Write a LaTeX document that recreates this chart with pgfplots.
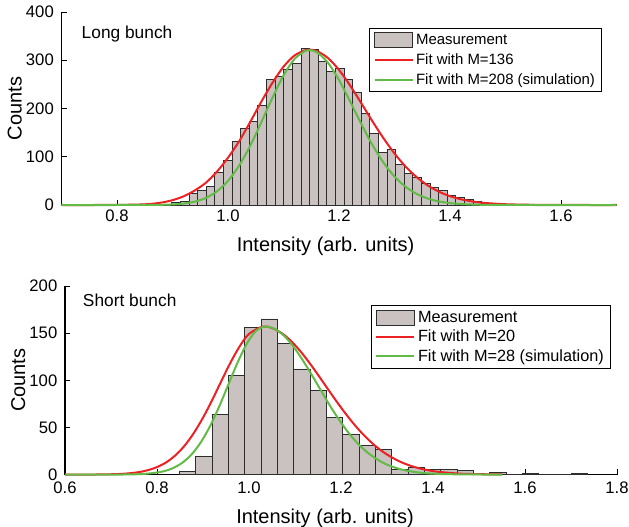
\documentclass[border=0pt]{standalone}
\usepackage{pgfplots}
\pgfplotsset{compat=1.18}
\usepackage{fontspec}
\setmainfont{Liberation Sans}
\definecolor{barfill}{RGB}{201,194,192}
\definecolor{baredge}{RGB}{45,45,45}
\definecolor{fitred}{RGB}{237,32,36}
\definecolor{fitgreen}{RGB}{98,187,70}
\pgfplotsset{
  myaxis/.style={
    scale only axis,
    clip=false,
    axis x line*=bottom, axis y line*=left,
    axis line style={line width=0.8pt, -},
    tick align=inside,
    major tick length=4pt,
    tick style={line width=0.7pt, black},
    ticklabel style={font=\fontsize{12.5}{15}\selectfont},
    yticklabel shift=2.25pt,
    label style={font=\fontsize{15}{18}\selectfont},
    xlabel={Intensity (arb. units)},
    ylabel={Counts},
    ylabel shift=-3.75pt,
    legend cell align=left,
    legend style={draw=black, line width=0.7pt, inner xsep=3pt, inner ysep=2pt},
  },
  barlegend/.style={legend image code/.code={\draw[fill=barfill, draw=baredge, line width=0.6pt] (0pt,-5.6pt) rectangle (28.5pt,5.6pt);}},
  linelegend/.style={legend image code/.code={\draw[line width=1.3pt] (0pt,0pt) -- (28.5pt,0pt);}},
  barstyle/.style={ybar interval, fill=barfill, draw=baredge, line width=0.5pt, barlegend},
  redfit/.style={fitred, line width=1.5pt, smooth, tension=0.5, linelegend},
  greenfit/.style={fitgreen, line width=1.5pt, smooth, tension=0.5, linelegend},
}
\begin{document}
\begin{tikzpicture}
\useasboundingbox (0pt,0pt) rectangle (471.75pt,-395.25pt);
% ---------------- Long bunch ----------------
\begin{axis}[myaxis,
  at={(46.125pt,-153.75pt)}, anchor=south west,
  width=416.25pt, height=144.75pt,
  xmin=0.7, xmax=1.7, ymin=0, ymax=400,
  xtick={0.8,1.0,1.2,1.4,1.6}, xticklabels={0.8,1.0,1.2,1.4,1.6},
  ytick={0,100,200,300,400}, yticklabels={0,100,200,300,400},
  xlabel style={at={(ticklabel cs:0.4757)}},
  xlabel shift=4.5pt,
  legend style={at={(0.974,0.917)}, anchor=north east, font=\fontsize{11.2}{13}\selectfont, row sep=1.5pt}]
\addplot[barstyle] coordinates {
(0.8831,2) (0.8986,5) (0.9141,8) (0.9296,24) (0.9451,30) (0.9607,38) (0.9762,68) (0.9917,92)
(1.0072,131) (1.0227,159) (1.0382,174) (1.0537,207) (1.0692,261) (1.0847,266) (1.1002,281)
(1.1158,293) (1.1313,324) (1.1468,323) (1.1623,298) (1.1778,277) (1.1933,283) (1.2088,261)
(1.2243,233) (1.2398,190) (1.2553,148) (1.2709,109) (1.2864,116) (1.3019,84) (1.3174,66)
(1.3329,57) (1.3484,45) (1.3639,37) (1.3794,30) (1.3949,19) (1.4104,16) (1.4260,12)
(1.4415,7) (1.4570,4) (1.4725,2) (1.4880,0)};
\addlegendentry{Measurement}
\addplot[redfit] coordinates {
(0.70,0) (0.76,0) (0.80,0.2) (0.84,1.0) (0.86,2.2) (0.88,5) (0.90,10) (0.92,18) (0.94,30)
(0.96,46) (0.98,69) (1.00,98) (1.02,132) (1.04,172) (1.06,214) (1.08,253) (1.10,286.6)
(1.12,310) (1.14,321) (1.147,322) (1.16,319.2) (1.18,304.8) (1.20,280) (1.22,247.7)
(1.24,211.3) (1.26,174) (1.28,138.7) (1.30,106.8) (1.32,79.6) (1.34,57.7) (1.36,40.5)
(1.38,27.6) (1.40,18.3) (1.42,11.8) (1.44,7.4) (1.46,4.5) (1.50,1.6) (1.55,0.4) (1.60,0.1)
(1.65,0) (1.70,0)};
\addlegendentry{Fit with M=136}
\addplot[greenfit] coordinates {
(0.70,0) (0.80,0) (0.86,0.1) (0.88,0.4) (0.90,1.2) (0.92,3.0) (0.94,6.9) (0.96,14.6)
(0.98,28.2) (1.00,49.9) (1.02,81.6) (1.04,122.8) (1.06,171.4) (1.08,222) (1.10,268.5)
(1.12,302.8) (1.14,319.8) (1.147,321) (1.16,316.8) (1.18,295.1) (1.20,259) (1.22,214.7)
(1.24,168.3) (1.26,124.9) (1.28,88.2) (1.30,59.0) (1.32,37.7) (1.34,23.0) (1.36,13.4)
(1.38,7.4) (1.40,3.9) (1.42,2.0) (1.44,1.0) (1.46,0.4) (1.50,0.1) (1.55,0) (1.70,0)};
\addlegendentry{Fit with M=208 (simulation)}
\node[anchor=west, font=\fontsize{13}{15}\selectfont] at (rel axis cs:0.028,0.885) {Long bunch};
\end{axis}
% ---------------- Short bunch ----------------
\begin{axis}[myaxis,
  at={(48.75pt,-355.9pt)}, anchor=south west,
  width=414pt, height=141.4pt,
  xmin=0.6, xmax=1.8, ymin=0, ymax=200,
  xtick={0.6,0.8,1.0,1.2,1.4,1.6,1.8}, xticklabels={0.6,0.8,1.0,1.2,1.4,1.6,1.8},
  ytick={0,50,100,150,200}, yticklabels={0,50,100,150,200},
  xticklabel shift=2.25pt,
  xlabel style={at={(ticklabel cs:0.471)}},
  xlabel shift=4.5pt,
  legend style={at={(0.989,0.899)}, anchor=north east, font=\fontsize{12.2}{14}\selectfont, row sep=0.3pt}]
\addplot[barstyle] coordinates {
(0.8486,3) (0.8841,19) (0.9196,64) (0.9551,105) (0.9906,156) (1.0261,165) (1.0616,139)
(1.0971,112) (1.1326,89) (1.1681,61) (1.2036,43) (1.2391,31) (1.2746,27) (1.3101,5)
(1.3456,8) (1.3811,5) (1.4166,5) (1.4521,4) (1.4876,0) (1.5231,2) (1.5586,0) (1.5941,1)
(1.6296,0) (1.6651,0) (1.7006,1) (1.7361,0)};
\addlegendentry{Measurement}
\addplot[redfit] coordinates {
(0.60,0) (0.66,0) (0.70,0.3) (0.73,0.9) (0.76,2.5) (0.78,4.6) (0.80,7.9) (0.82,12.9)
(0.84,20.4) (0.86,30.6) (0.88,44) (0.90,60.3) (0.92,79) (0.94,99.3) (0.96,119) (0.98,136.2)
(1.00,149.2) (1.03,157) (1.05,155.4) (1.07,150.3) (1.09,142.3) (1.11,131.8) (1.13,119.4)
(1.15,105.8) (1.17,91.7) (1.19,77.8) (1.21,64.6) (1.23,52.4) (1.25,41.6) (1.27,32.3)
(1.29,24.5) (1.31,18.3) (1.33,13.3) (1.35,9.5) (1.37,6.6) (1.40,3.6) (1.43,2.0) (1.46,0.9)
(1.50,0.4) (1.55,0.1)};
\addlegendentry{Fit with M=20}
\addplot[greenfit] coordinates {
(0.60,0) (0.70,0) (0.74,0.1) (0.77,0.6) (0.795,1.8) (0.815,3.5) (0.835,6.9) (0.855,12.5)
(0.875,21.2) (0.895,34) (0.915,51) (0.935,71.9) (0.955,95.3) (0.975,118.6) (0.995,138.6)
(1.015,152.3) (1.035,157) (1.055,154.6) (1.075,147.7) (1.095,136.8) (1.115,122.7)
(1.135,106.9) (1.155,90.3) (1.175,73.8) (1.195,58.7) (1.215,45.1) (1.235,33.7) (1.255,24.4)
(1.275,17.2) (1.295,11.6) (1.315,7.7) (1.335,4.9) (1.36,2.7) (1.39,1.2) (1.43,0.4)
(1.50,0.05) (1.55,0)};
\addlegendentry{Fit with M=28 (simulation)}
\node[anchor=west, font=\fontsize{13}{15}\selectfont] at (rel axis cs:0.024,0.925) {Short bunch};
\end{axis}
\end{tikzpicture}
\end{document}
